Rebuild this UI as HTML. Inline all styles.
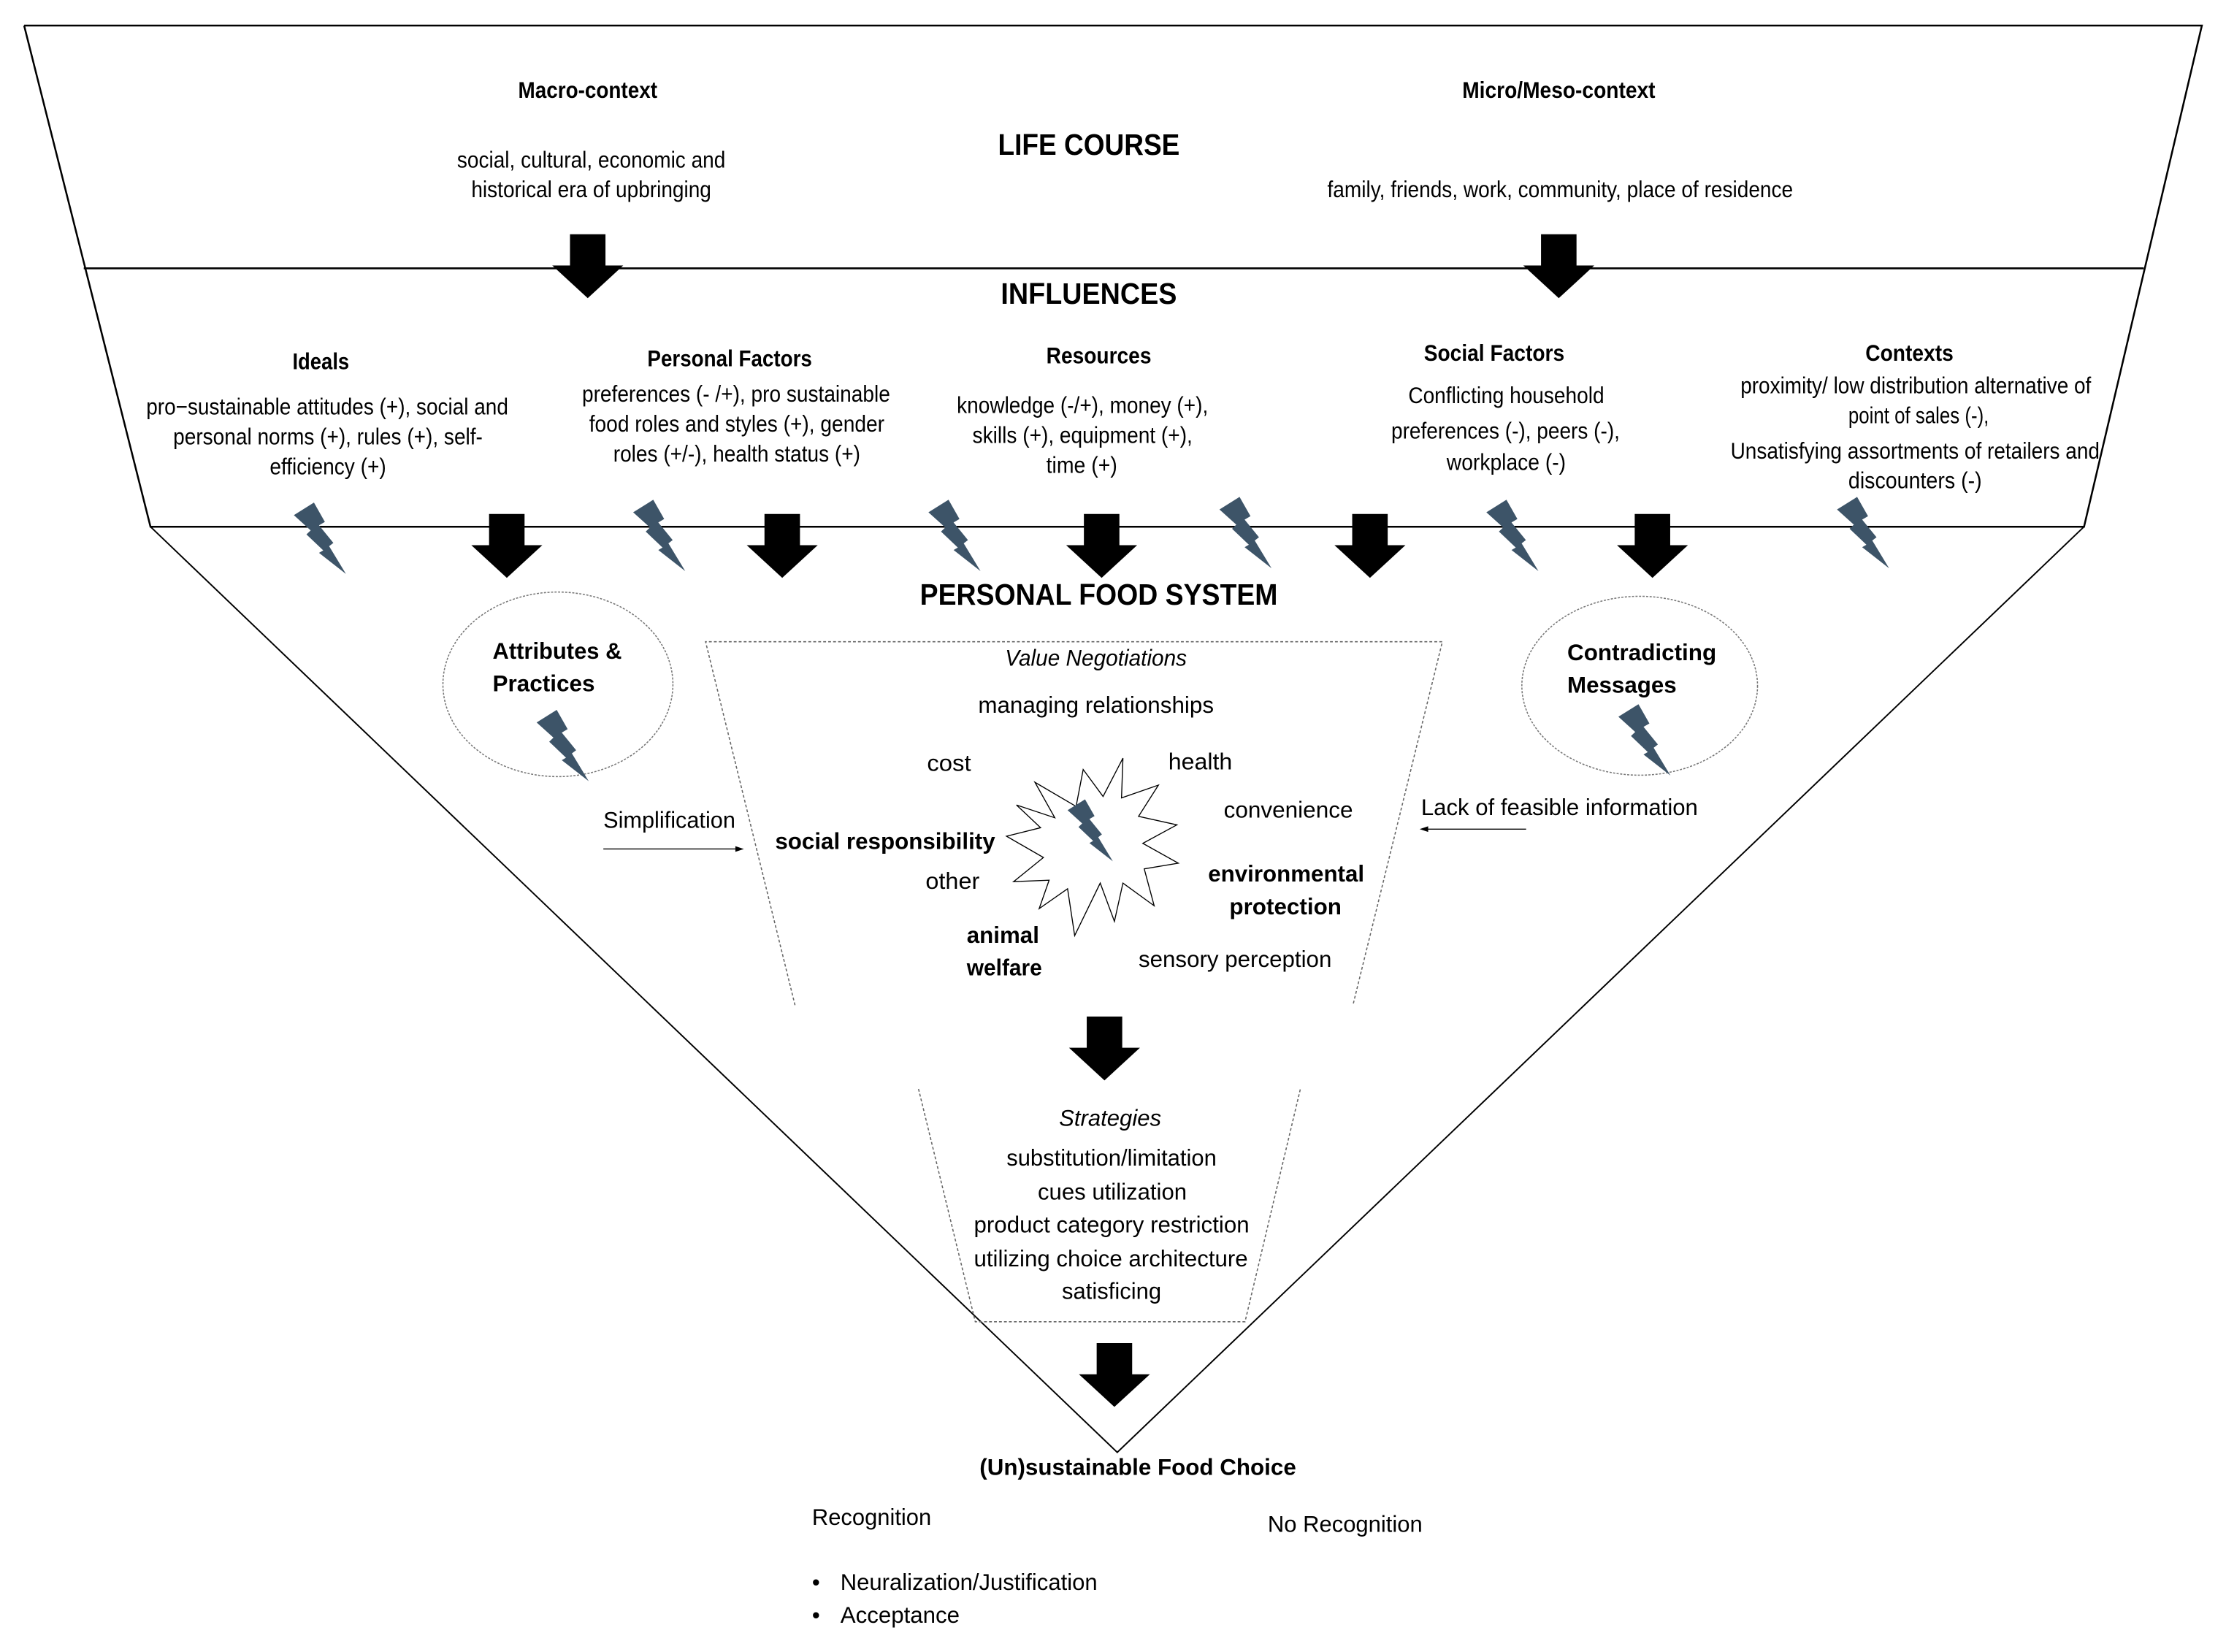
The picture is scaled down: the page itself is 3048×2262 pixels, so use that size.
<!DOCTYPE html>
<html><head><meta charset="utf-8"><style>
html,body{margin:0;padding:0;background:#fff;}
svg{display:block;}
text{font-family:"Liberation Sans",Arial,sans-serif;fill:#000;}
.n{font-size:16px;}
.b{font-size:16px;font-weight:bold;}
.h{font-size:21px;font-weight:bold;}
.i{font-size:16px;font-style:italic;}
</style></head><body>
<svg width="3048" height="2262" viewBox="0 0 1568 1163.6" xmlns="http://www.w3.org/2000/svg">
<defs>
<polygon id="bolt" points="0,7.7 12.3,0 19,11.8 15.4,13.9 24.2,24.7 21.6,26.7 31.9,43.7 15.4,30.8 18,29.3 7.7,19.5 10.3,17" fill="#3d5468"/>
<polygon id="arr" points="-12.5,0 12.5,0 12.5,22 25,22 0,45 -25,22 -12.5,22" fill="#000"/>
</defs>
<rect width="1568" height="1164" fill="#fff"/>
<polyline points="17,18 1551,18 1468,371 106,371 17,18" fill="none" stroke="#000" stroke-width="1.3"/>
<line x1="59" y1="189" x2="1510" y2="189" stroke="#000" stroke-width="1.3"/>
<polyline points="106,371 787,1023 1468,371" fill="none" stroke="#000" stroke-width="1"/>

<text class="b" x="365" y="69" textLength="98" lengthAdjust="spacingAndGlyphs">Macro-context</text>
<text class="n" x="322" y="118" textLength="189" lengthAdjust="spacingAndGlyphs">social, cultural, economic and</text>
<text class="n" x="332" y="139" textLength="169" lengthAdjust="spacingAndGlyphs">historical era of upbringing</text>
<text class="h" x="703" y="109" textLength="128" lengthAdjust="spacingAndGlyphs">LIFE COURSE</text>
<text class="b" x="1030" y="69" textLength="136" lengthAdjust="spacingAndGlyphs">Micro/Meso-context</text>
<text class="n" x="935" y="139" textLength="328" lengthAdjust="spacingAndGlyphs">family, friends, work, community, place of residence</text>
<use href="#arr" x="414" y="165"/>
<use href="#arr" x="1098" y="165"/>

<text class="h" x="705" y="214" textLength="124" lengthAdjust="spacingAndGlyphs">INFLUENCES</text>

<text class="b" x="206" y="260" textLength="40" lengthAdjust="spacingAndGlyphs">Ideals</text>
<text class="n" x="103" y="292" textLength="255" lengthAdjust="spacingAndGlyphs">pro−sustainable attitudes (+), social and</text>
<text class="n" x="122" y="313" textLength="218" lengthAdjust="spacingAndGlyphs">personal norms (+), rules (+), self-</text>
<text class="n" x="190" y="334" textLength="82" lengthAdjust="spacingAndGlyphs">efficiency (+)</text>

<text class="b" x="456" y="258" textLength="116" lengthAdjust="spacingAndGlyphs">Personal Factors</text>
<text class="n" x="410" y="283" textLength="217" lengthAdjust="spacingAndGlyphs">preferences (- /+), pro sustainable</text>
<text class="n" x="415" y="304" textLength="208" lengthAdjust="spacingAndGlyphs">food roles and styles (+), gender</text>
<text class="n" x="432" y="325" textLength="174" lengthAdjust="spacingAndGlyphs">roles (+/-), health status (+)</text>

<text class="b" x="737" y="256" textLength="74" lengthAdjust="spacingAndGlyphs">Resources</text>
<text class="n" x="674" y="291" textLength="177" lengthAdjust="spacingAndGlyphs">knowledge (-/+), money (+),</text>
<text class="n" x="685" y="312" textLength="155" lengthAdjust="spacingAndGlyphs">skills (+), equipment (+),</text>
<text class="n" x="737" y="333" textLength="50" lengthAdjust="spacingAndGlyphs">time (+)</text>

<text class="b" x="1003" y="254" textLength="99" lengthAdjust="spacingAndGlyphs">Social Factors</text>
<text class="n" x="992" y="284" textLength="138" lengthAdjust="spacingAndGlyphs">Conflicting household</text>
<text class="n" x="980" y="309" textLength="161" lengthAdjust="spacingAndGlyphs">preferences (-), peers (-),</text>
<text class="n" x="1019" y="331" textLength="84" lengthAdjust="spacingAndGlyphs">workplace (-)</text>

<text class="b" x="1314" y="254" textLength="62" lengthAdjust="spacingAndGlyphs">Contexts</text>
<text class="n" x="1226" y="277" textLength="247" lengthAdjust="spacingAndGlyphs">proximity/ low distribution alternative of</text>
<text class="n" x="1302" y="298" textLength="99" lengthAdjust="spacingAndGlyphs">point of sales (-),</text>
<text class="n" x="1219" y="323" textLength="260" lengthAdjust="spacingAndGlyphs">Unsatisfying assortments of retailers and</text>
<text class="n" x="1302" y="344" textLength="94" lengthAdjust="spacingAndGlyphs">discounters (-)</text>

<g transform="translate(207,354) scale(1.15)"><use href="#bolt"/></g>
<g transform="translate(446,352) scale(1.15)"><use href="#bolt"/></g>
<g transform="translate(654,352) scale(1.15)"><use href="#bolt"/></g>
<g transform="translate(859,350) scale(1.15)"><use href="#bolt"/></g>
<g transform="translate(1047,352) scale(1.15)"><use href="#bolt"/></g>
<g transform="translate(1294,350) scale(1.15)"><use href="#bolt"/></g>

<use href="#arr" x="357" y="362"/>
<use href="#arr" x="551" y="362"/>
<use href="#arr" x="776" y="362"/>
<use href="#arr" x="965" y="362"/>
<use href="#arr" x="1164" y="362"/>

<text class="h" x="648" y="426" textLength="252" lengthAdjust="spacingAndGlyphs">PERSONAL FOOD SYSTEM</text>

<ellipse cx="393" cy="482" rx="81" ry="65" fill="none" stroke="#777" stroke-width="0.8" stroke-dasharray="1.5,1"/>
<text class="b" x="347" y="464" textLength="91" lengthAdjust="spacingAndGlyphs">Attributes &amp;</text>
<text class="b" x="347" y="487" textLength="72" lengthAdjust="spacingAndGlyphs">Practices</text>
<g transform="translate(378,500) scale(1.15)"><use href="#bolt"/></g>

<ellipse cx="1155" cy="483" rx="83" ry="63" fill="none" stroke="#777" stroke-width="0.8" stroke-dasharray="1.5,1"/>
<text class="b" x="1104" y="465" textLength="105" lengthAdjust="spacingAndGlyphs">Contradicting</text>
<text class="b" x="1104" y="488" textLength="77" lengthAdjust="spacingAndGlyphs">Messages</text>
<g transform="translate(1140,496) scale(1.15)"><use href="#bolt"/></g>

<polyline points="560,708 497,452 1016,452 953,708" fill="none" stroke="#666" stroke-width="0.8" stroke-dasharray="2,1.5"/>
<text class="i" x="708" y="469" textLength="128" lengthAdjust="spacingAndGlyphs">Value Negotiations</text>
<text class="n" x="689" y="502" textLength="166" lengthAdjust="spacingAndGlyphs">managing relationships</text>
<text class="n" x="653" y="543" textLength="31" lengthAdjust="spacingAndGlyphs">cost</text>
<text class="n" x="823" y="542" textLength="45" lengthAdjust="spacingAndGlyphs">health</text>
<text class="n" x="862" y="576" textLength="91" lengthAdjust="spacingAndGlyphs">convenience</text>
<text class="b" x="546" y="598" textLength="155" lengthAdjust="spacingAndGlyphs">social responsibility</text>
<text class="n" x="652" y="626" textLength="38" lengthAdjust="spacingAndGlyphs">other</text>
<text class="b" x="851" y="621" textLength="110" lengthAdjust="spacingAndGlyphs">environmental</text>
<text class="b" x="866" y="644" textLength="79" lengthAdjust="spacingAndGlyphs">protection</text>
<text class="b" x="681" y="664" textLength="51" lengthAdjust="spacingAndGlyphs">animal</text>
<text class="b" x="681" y="687" textLength="53" lengthAdjust="spacingAndGlyphs">welfare</text>
<text class="n" x="802" y="681" textLength="136" lengthAdjust="spacingAndGlyphs">sensory perception</text>

<polygon points="791,534 790,562 816,553 802,575 829,581 805,594 830,608 806,612 813,638 791,622 785,649 775,622 757,659 752,626 732,640 739,620 714,621 735,604 709,589 733,583 716,567 743,576 729,551 758,568 763,542 777,561" fill="#fff" stroke="#000" stroke-width="0.7"/>
<use href="#bolt" x="752" y="563"/>

<text class="n" x="425" y="583" textLength="93" lengthAdjust="spacingAndGlyphs">Simplification</text>
<line x1="425" y1="598" x2="520" y2="598" stroke="#000" stroke-width="0.7"/>
<polygon points="524,598 518,596 518,600" fill="#000"/>
<text class="n" x="1001" y="574" textLength="195" lengthAdjust="spacingAndGlyphs">Lack of feasible information</text>
<line x1="1004" y1="584" x2="1075" y2="584" stroke="#000" stroke-width="0.7"/>
<polygon points="1000,584 1006,582 1006,586" fill="#000"/>

<use href="#arr" x="778" y="716"/>

<polyline points="647,767 687,931 877,931 916,767" fill="none" stroke="#666" stroke-width="0.8" stroke-dasharray="2,1.5"/>
<text class="i" x="746" y="793" textLength="72" lengthAdjust="spacingAndGlyphs">Strategies</text>
<text class="n" x="709" y="821" textLength="148" lengthAdjust="spacingAndGlyphs">substitution/limitation</text>
<text class="n" x="731" y="845" textLength="105" lengthAdjust="spacingAndGlyphs">cues utilization</text>
<text class="n" x="686" y="868" textLength="194" lengthAdjust="spacingAndGlyphs">product category restriction</text>
<text class="n" x="686" y="892" textLength="193" lengthAdjust="spacingAndGlyphs">utilizing choice architecture</text>
<text class="n" x="748" y="915" textLength="70" lengthAdjust="spacingAndGlyphs">satisficing</text>

<use href="#arr" x="785" y="946"/>

<text class="b" x="690" y="1039" textLength="223" lengthAdjust="spacingAndGlyphs">(Un)sustainable Food Choice</text>
<text class="n" x="572" y="1074" textLength="84" lengthAdjust="spacingAndGlyphs">Recognition</text>
<text class="n" x="893" y="1079" textLength="109" lengthAdjust="spacingAndGlyphs">No Recognition</text>
<text class="n" x="572" y="1120">•</text>
<text class="n" x="592" y="1120" textLength="181" lengthAdjust="spacingAndGlyphs">Neuralization/Justification</text>
<text class="n" x="572" y="1143">•</text>
<text class="n" x="592" y="1143" textLength="84" lengthAdjust="spacingAndGlyphs">Acceptance</text>
</svg>
</body></html>
